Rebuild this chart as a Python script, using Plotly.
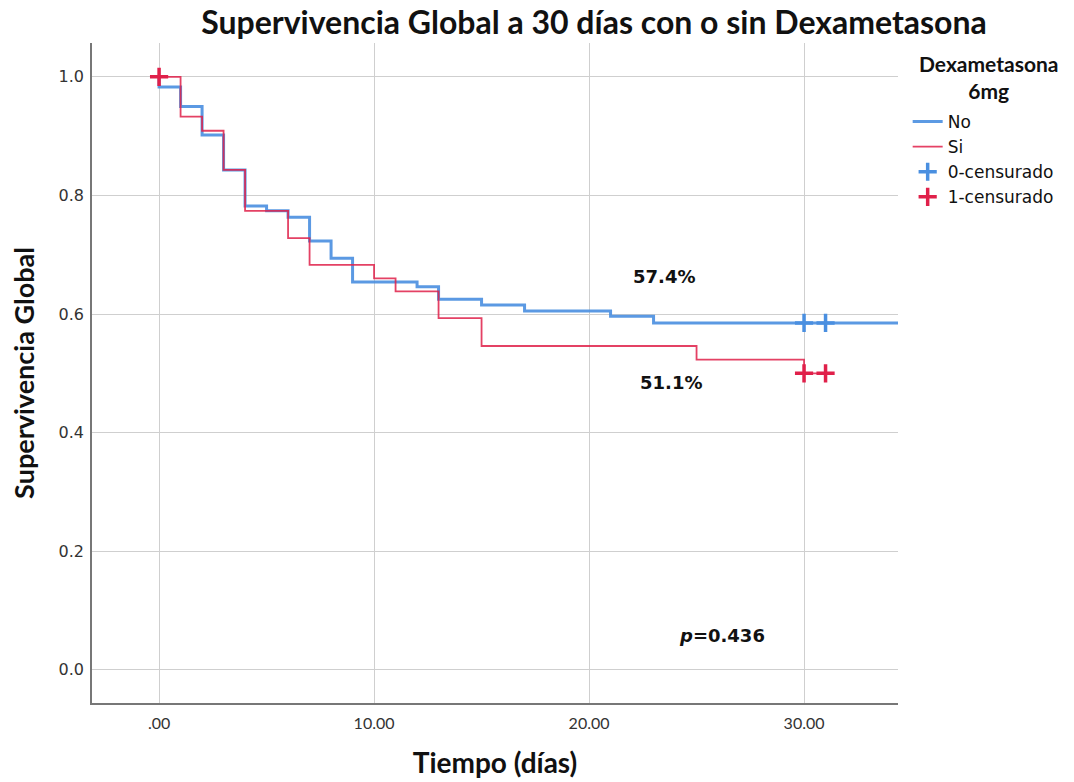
import plotly.graph_objects as go

# Kaplan-Meier step data
no_t = [0, 0, 1, 2, 3, 4, 5, 6, 7, 8, 9, 12, 13, 15, 17, 21, 23, 35]
no_s = [1.0, 0.983, 0.950, 0.902, 0.843, 0.782, 0.774, 0.763, 0.723, 0.694, 0.654, 0.646, 0.625, 0.615, 0.605, 0.596, 0.585, 0.585]

si_t = [0, 1, 2, 3, 4, 6, 7, 10, 11, 13, 15, 25, 30, 31]
si_s = [1.0, 0.933, 0.909, 0.843, 0.774, 0.728, 0.683, 0.660, 0.638, 0.593, 0.546, 0.523, 0.500, 0.500]

no_cens_t = [30, 31]
no_cens_s = [0.585, 0.585]
si_cens_t = [0, 30, 31]
si_cens_s = [1.0, 0.500, 0.500]

x_ticks = [0, 10, 20, 30]
x_tick_labels = [".00", "10.00", "20.00", "30.00"]
y_ticks = [0.0, 0.2, 0.4, 0.6, 0.8, 1.0]
y_tick_labels = ["0.0", "0.2", "0.4", "0.6", "0.8", "1.0"]

BLUE = "#4a8fe0"
RED = "#e0204a"

fig = go.Figure()
fig.add_trace(go.Scatter(x=no_t, y=no_s, mode="lines", line_shape="hv",
                         line=dict(color=BLUE, width=3), opacity=0.9, name="No"))
fig.add_trace(go.Scatter(x=si_t, y=si_s, mode="lines", line_shape="hv",
                         line=dict(color=RED, width=1.8), opacity=0.85, name="Si"))
fig.add_trace(go.Scatter(x=no_cens_t, y=no_cens_s, mode="markers", name="0-censurado",
                         marker=dict(symbol="cross-thin", size=13, color=BLUE,
                                     line=dict(color=BLUE, width=3.5))))
fig.add_trace(go.Scatter(x=si_cens_t, y=si_cens_s, mode="markers", name="1-censurado",
                         marker=dict(symbol="cross-thin", size=13, color=RED,
                                     line=dict(color=RED, width=3.5))))

font_fam = "Lato, 'DejaVu Sans', sans-serif"
dv = "'DejaVu Sans', sans-serif"

fig.update_layout(
    width=1074, height=782,
    margin=dict(l=92, r=176, t=43, b=79, autoexpand=False),
    paper_bgcolor="white", plot_bgcolor="white",
    font=dict(family=font_fam, color="#222"),
    title=dict(text="<b>Supervivencia Global a 30 días con o sin Dexametasona</b>",
               x=594 / 1074, xanchor="center", y=1 - 23 / 782, yanchor="middle",
               font=dict(size=32, color="#111", family=font_fam)),
    legend=dict(
        x=1.012, xanchor="left", y=(703 - 104) / 660, yanchor="top",
        font=dict(size=17, color="#111", family=dv),
        itemwidth=30, tracegroupgap=0,
        bgcolor="rgba(0,0,0,0)",
    ),
    xaxis=dict(range=[-3.12, 34.37], tickvals=x_ticks, ticktext=x_tick_labels,
               showgrid=True, gridcolor="#cfcfcf", gridwidth=1.3,
               showline=True, linecolor="#777", linewidth=1.5, zeroline=False,
               ticks="", ticklabelstandoff=5, automargin=False,
               tickfont=dict(size=16, color="#333", family=font_fam),
               title=dict(text="<b>Tiempo (días)</b>", font=dict(size=28, color="#111"), standoff=22)),
    yaxis=dict(range=[-0.056, 1.057], tickvals=y_ticks, ticktext=y_tick_labels,
               showgrid=True, gridcolor="#cfcfcf", gridwidth=1.3,
               showline=True, linecolor="#777", linewidth=1.5, zeroline=False,
               ticks="", ticklabelstandoff=3, automargin=False,
               tickfont=dict(size=16, color="#333", family=dv),
               title=dict(text="<b>Supervivencia Global</b>", font=dict(size=27, color="#111"), standoff=16)),
)

# legend title as a centered annotation
fig.add_annotation(xref="paper", yref="paper", x=(988 - 92) / 806, y=(703 - 77) / 660,
                   text="<b>Dexametasona<br>6mg</b>", showarrow=False, xanchor="center", yanchor="middle",
                   align="center", font=dict(size=21, color="#111", family=font_fam))

fig.add_annotation(x=23.5, y=0.664, text="<b>57.4%</b>", showarrow=False,
                   font=dict(size=18, color="#111", family=dv))
fig.add_annotation(x=23.8, y=0.484, text="<b>51.1%</b>", showarrow=False,
                   font=dict(size=18, color="#111", family=dv))
fig.add_annotation(x=26.2, y=0.058, text="<b><i>p</i>=0.436</b>", showarrow=False,
                   font=dict(size=18, color="#111", family=dv))

fig.write_html("out.html")
